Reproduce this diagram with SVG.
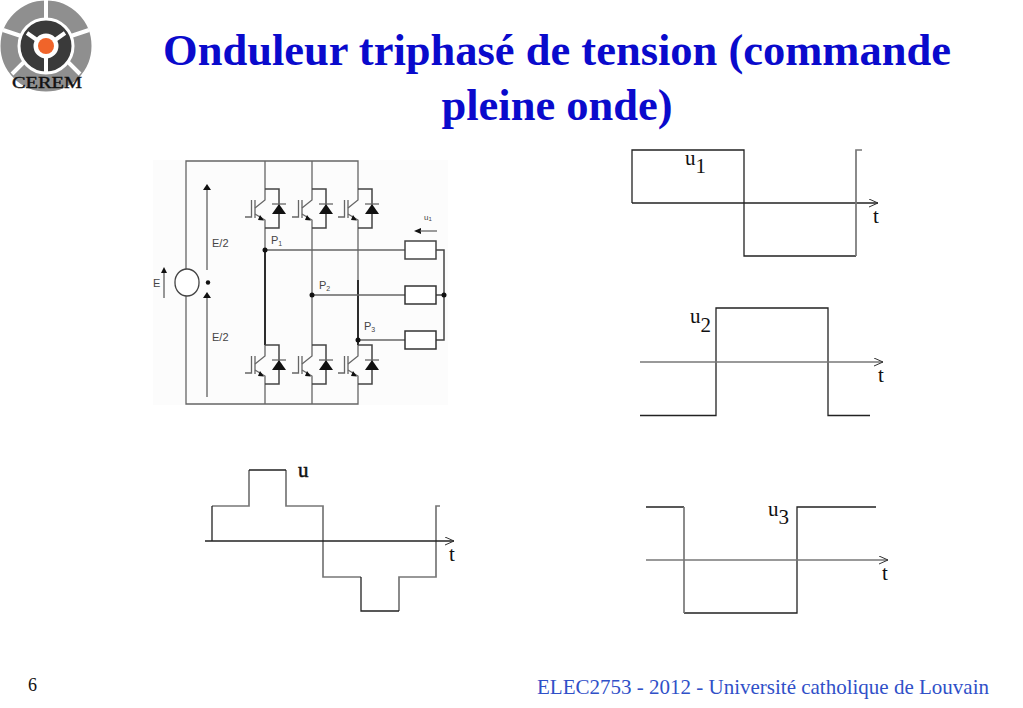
<svg xmlns="http://www.w3.org/2000/svg" width="1023" height="708" viewBox="0 0 1023 708">
<defs>
<style>
.ser{font-family:"Liberation Serif","Times New Roman",serif}
.san{font-family:"Liberation Sans",Arial,sans-serif;fill:#444}
.title{font-size:44.500px;font-weight:bold;fill:#0a0acc;text-anchor:middle}
.w{fill:none;stroke:#222;stroke-width:1.300}
.g{fill:none;stroke:#777;stroke-width:1.700}
.c{fill:none;stroke:#666;stroke-width:1.300}
.d{fill:none;stroke:#222;stroke-width:1.800}
.f{fill:none;stroke:#444;stroke-width:1.500}
.k{fill:#111;stroke:none}
.lab{font-size:21px;fill:#111}
</style>
<marker id="open" markerWidth="12" markerHeight="10" refX="9" refY="4" orient="auto" markerUnits="userSpaceOnUse"><path d="M0 0L9 4L0 8" fill="none" stroke="#333" stroke-width="1"/></marker>
<g id="sw">
<path class="c" d="M0 -18V-7L-10 1M-10 7L0 13V21"/>
<path class="c" d="M-10 -7V11M-13.500 -7V10H-20"/>
<path class="k" d="M-5 8L-1 13.500L-7 13Z"/>
<path class="f" d="M0 -18H14V21H0"/>
<path class="k" d="M7 7L14 -3L21 7Z"/>
<path class="c" d="M7 -3H21"/>
</g>
</defs>
<rect width="1023" height="708" fill="#fff"/>
<g id="logo">
<circle cx="46" cy="46" r="37" fill="none" stroke="#8f8f8f" stroke-width="17"/>
<circle cx="46" cy="46" r="19" fill="none" stroke="#3a3a3a" stroke-width="13"/>
<circle cx="46" cy="46" r="8" fill="#f0642a"/>
<path d="M46 0V18M3 30L21 36M89 30L71 36M12 74L24 62M80 74L68 62" stroke="#fff" stroke-width="4" fill="none"/>
<path d="M27 33L37 40M65 33L55 40M46 57V72" stroke="#fff" stroke-width="4" fill="none"/>
<text class="ser" x="47" y="88" font-size="16" text-anchor="middle" fill="#111" stroke="#111" stroke-width="0.400" textLength="70" lengthAdjust="spacingAndGlyphs">CEREM</text>
</g>
<g id="title" class="ser">
<text class="title" x="557" y="65">Onduleur triphasé de tension (commande</text>
<text class="title" x="557" y="120">pleine onde)</text>
</g>
<rect x="153" y="160" width="295" height="245" fill="#fcfcfc"/>
<g id="connectors">
<path class="c" d="M186 270V161H358V189M186 295V404H358V384M265 161V189M312 161V189M265 384V404M312 384V404"/>
<path class="c" d="M265 228V345M312 228V345M358 228V345"/>
<path class="d" d="M265 250V345M358 280V345"/>
<path class="c" d="M265 250H405M312 295H405M358 340H405"/>
<path class="f" d="M436 250H444V340H436M436 295H444"/>
<path class="k" d="M414 231L421 228V234Z"/>
<path class="c" d="M420 231H437"/>
<path d="M207 270V186" stroke="#333" fill="none"/><path class="k" d="M207 184L211 190H203Z"/>
<path d="M207 297V397" stroke="#333" fill="none"/><path class="k" d="M207 292L211 298H203Z"/>
<path d="M164 298V270" stroke="#333" fill="none"/><path class="k" d="M164 267L167 273H161Z"/>
</g>
<g id="E-source"><rect x="175" y="269" width="24" height="27" rx="12" ry="13" fill="#fff" stroke="#444" stroke-width="1.300"/></g>
<g id="S1"><use href="#sw" x="265" y="207"/></g>
<g id="S2"><use href="#sw" x="312" y="207"/></g>
<g id="S3"><use href="#sw" x="358" y="207"/></g>
<g id="S4"><use href="#sw" x="265" y="363"/></g>
<g id="S5"><use href="#sw" x="312" y="363"/></g>
<g id="S6"><use href="#sw" x="358" y="363"/></g>
<g id="R1"><rect x="405" y="241" width="31" height="18" fill="#fff" stroke="#444" stroke-width="1.500"/></g>
<g id="R2"><rect x="405" y="286" width="31" height="18" fill="#fff" stroke="#333" stroke-width="1.500"/></g>
<g id="R3"><rect x="405" y="331" width="31" height="18" fill="#fff" stroke="#333" stroke-width="1.500"/></g>
<g id="dots" class="k">
<circle cx="208" cy="282.500" r="2.200"/><circle cx="265" cy="250" r="2.500"/><circle cx="312" cy="295" r="2.500"/><circle cx="358" cy="340" r="2.500"/><circle cx="444" cy="295" r="2.500"/>
</g>
<g id="circuit-labels" class="san">
<text x="212" y="247" font-size="11">E/2</text>
<text x="212" y="341" font-size="11">E/2</text>
<text x="153" y="287" font-size="11">E</text>
<text x="271" y="244" font-size="11">P<tspan font-size="7" dy="2">1</tspan></text>
<text x="319" y="289" font-size="11">P<tspan font-size="7" dy="2">2</tspan></text>
<text x="364" y="330" font-size="11">P<tspan font-size="7" dy="2">3</tspan></text>
<text x="424" y="220" font-size="8">u<tspan font-size="6" dy="1">1</tspan></text>
</g>
<g id="u1-plot">
<path class="w" d="M632 203V150H744V256H856"/>
<path class="w" d="M632 203H878" marker-end="url(#open)"/>
<path class="g" d="M856 256V150H862"/>
<text class="ser lab" x="685" y="165">u<tspan dy="8">1</tspan></text>
<text class="ser lab" x="873" y="223">t</text>
</g>
<g id="u2-plot">
<path class="w" d="M640 415.500H716V308H828V415.500H870"/>
<path class="g" d="M640 362H883" marker-end="url(#open)"/>
<text class="ser lab" x="690" y="323">u<tspan dy="9">2</tspan></text>
<text class="ser lab" x="878" y="382">t</text>
</g>
<g id="u3-plot">
<path class="w" d="M646 507H684M684 613H797V507H876"/>
<path class="g" d="M684 507V613"/>
<path class="g" d="M646 560H888" marker-end="url(#open)"/>
<text class="ser lab" x="768" y="516">u<tspan dy="8">3</tspan></text>
<text class="ser lab" x="882" y="580">t</text>
</g>
<g id="u-plot">
<path class="g" d="M212 506H249V470M286 470V506H323V577H361M399 611V577H436V506H440"/>
<path class="w" d="M212 541V506M249 470H286M361 577V611H399"/>
<path class="w" d="M205 541H454" marker-end="url(#open)"/>
<text class="ser lab" x="298" y="477" stroke="#111" stroke-width="0.500">u</text>
<text class="ser lab" x="449" y="561">t</text>
</g>
<g id="footer" class="ser">
<text x="28" y="691" font-size="18" fill="#111">6</text>
<text x="537" y="694" font-size="21" fill="#3050c8">ELEC2753 - 2012 - Université catholique de Louvain</text>
</g>
</svg>
